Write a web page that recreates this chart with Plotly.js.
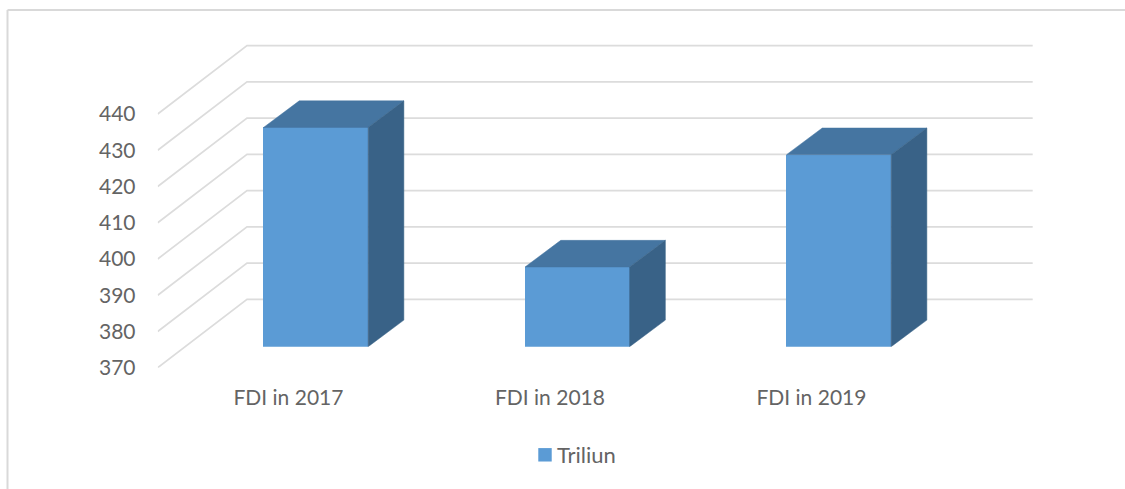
<!DOCTYPE html>
<html>
<head>
<meta charset="utf-8">
<script src="https://cdn.plot.ly/plotly-3.0.1.min.js"></script>
<style>html,body{margin:0;padding:0;background:#fff}#chart{width:1125px;height:489px}</style>
</head>
<body>
<div id="chart"></div>
<script>
// ---- data ----
var categories = ['FDI in 2017', 'FDI in 2018', 'FDI in 2019'];
var seriesName = 'Triliun';
var values = [430.5, 392, 423];
var yTicks = [370, 380, 390, 400, 410, 420, 430, 440];

// ---- geometry (pixels) ----
var W = 1125, H = 489;
var catPx = 261.5, unitPx = 3.624;
var positions = categories.map(function (_, i) { return i; });
var fx = function (p) { return p / W; };
var fy = function (p) { return 1 - p / H; };
var left = 157.7, floorY = 367.7, plotRight = 1036;
var backDx = 89.3 / catPx, backDy = 68.4 / unitPx;
var wallEnd = 2.5 + backDx + 1.2 / catPx;
var barShiftX = 27.4, barShiftY = 21;
var barW = 0.4, depthDx = 35.7 / catPx, depthDy = 26.6 / unitPx;
var yBase = yTicks[0], yTop = yTicks[yTicks.length - 1];

// ---- wall grid ----
var gx = [], gy = [];
yTicks.forEach(function (v) {
  gx.push(-0.5, -0.5 + backDx, wallEnd, null);
  gy.push(v, v + backDy, v + backDy, null);
});
var traces = [{
  type: 'scatter', mode: 'lines', x: gx, y: gy, xaxis: 'x', yaxis: 'y',
  line: { color: '#dcdcdc', width: 1.7 }, hoverinfo: 'skip', showlegend: false
}];

// ---- bar front ----
traces.push({
  type: 'bar', name: seriesName, x: positions, y: values.map(function (v) { return v - yBase; }),
  base: yBase, width: barW, xaxis: 'x2', yaxis: 'y2',
  marker: { color: '#5b9bd5', line: { width: 0 } },
  showlegend: true
});

// ---- bar top and side faces, derived from the values ----
values.forEach(function (v, i) {
  var l = positions[i] - barW / 2, r = positions[i] + barW / 2;
  traces.push({
    type: 'scatter', mode: 'lines', fill: 'toself', xaxis: 'x2', yaxis: 'y2',
    x: [l, r, r + depthDx, l + depthDx, l], y: [v, v, v + depthDy, v + depthDy, v],
    fillcolor: '#4575a1', line: { color: '#4575a1', width: 0.5 }, hoverinfo: 'skip', showlegend: false
  });
  traces.push({
    type: 'scatter', mode: 'lines', fill: 'toself', xaxis: 'x2', yaxis: 'y2',
    x: [r, r + depthDx, r + depthDx, r, r], y: [yBase, yBase + depthDy, v + depthDy, v, yBase],
    fillcolor: '#396287', line: { color: '#396287', width: 0.5 }, hoverinfo: 'skip', showlegend: false
  });
});

var tickFont = { family: 'Lato, "Open Sans", sans-serif', size: 21, color: '#646464' };
var legendFont = { family: 'Lato, "Open Sans", sans-serif', size: 22, color: '#646464' };
var hidden = { visible: false, fixedrange: true };

var layout = {
  width: W, height: H,
  margin: { l: 0, r: 0, t: 0, b: 0, pad: 0 },
  paper_bgcolor: '#ffffff', plot_bgcolor: 'rgba(0,0,0,0)',
  bargap: 0,
  xaxis: {
    domain: [fx(left), fx(plotRight)], range: [-0.5, (plotRight - left) / catPx - 0.5],
    tickmode: 'array', tickvals: positions, ticktext: categories, tickfont: tickFont,
    ticks: 'outside', ticklen: 11, tickcolor: 'rgba(0,0,0,0)', tickwidth: 1,
    showgrid: false, zeroline: false, showline: false, fixedrange: true, anchor: 'y'
  },
  yaxis: {
    domain: [fy(floorY), fy(44)], range: [yBase, yBase + (floorY - 44) / unitPx],
    tickmode: 'array', tickvals: yTicks, ticktext: yTicks.map(String), tickfont: tickFont,
    ticks: 'outside', ticklen: 17, tickcolor: 'rgba(0,0,0,0)', tickwidth: 1,
    showgrid: false, zeroline: false, showline: false, fixedrange: true, anchor: 'x'
  },
  xaxis2: Object.assign({}, hidden, {
    domain: [fx(left + barShiftX), fx(left + barShiftX + catPx * 3)], range: [-0.5, 2.5],
    anchor: 'y2'
  }),
  yaxis2: Object.assign({}, hidden, {
    domain: [fy(floorY - barShiftY), fy(floorY - barShiftY - (yTop - yBase) * unitPx)], range: [yBase, yTop],
    anchor: 'x2'
  }),
  showlegend: true,
  legend: {
    x: fx(529), y: fy(455), xanchor: 'left', yanchor: 'middle', bgcolor: 'rgba(0,0,0,0)',
    font: legendFont, itemclick: false, itemdoubleclick: false, borderwidth: 0, indentation: -12
  },
  shapes: [
    { type: 'line', xref: 'paper', yref: 'paper', x0: fx(7.5), x1: fx(7.5), y0: fy(10), y1: 0, line: { color: '#d9d9d9', width: 2 } },
    { type: 'line', xref: 'paper', yref: 'paper', x0: fx(7.5), x1: 1, y0: fy(10), y1: fy(10), line: { color: '#d9d9d9', width: 2 } }
  ]
};

Plotly.newPlot('chart', traces, layout, { displayModeBar: false }).then(function (gd) {
  // Excel's legend swatch sits closer to its label and is slightly larger than Plotly's default
  var sw = gd.querySelector('.legend .legendbar path') || gd.querySelector('.legend .legendpoints path');
  if (sw) sw.setAttribute('transform', (sw.getAttribute('transform') || '') + ' translate(8,0) scale(1.12)');
});
</script>
</body>
</html>
